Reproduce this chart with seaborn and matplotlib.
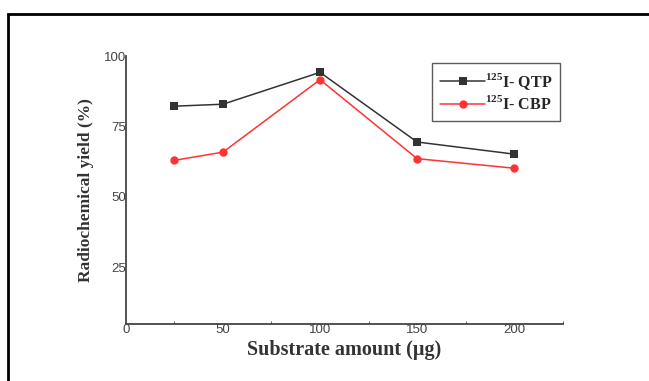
import numpy as np
import pandas as pd
import seaborn as sns
import matplotlib.pyplot as plt
from matplotlib.patches import Rectangle
from matplotlib.ticker import MultipleLocator

amount = [25, 50, 100, 150, 200]
qtp = [82.2, 82.9, 94.2, 69.5, 65.2]
cbp = [63.0, 65.9, 91.6, 63.6, 60.2]
labels = [r'$^{125}$I- QTP', r'$^{125}$I- CBP']

df = pd.DataFrame({'amount': amount * 2,
                   'yield': qtp + cbp,
                   'series': [labels[0]] * 5 + [labels[1]] * 5})

sns.set_style('white')
plt.rcParams['mathtext.fontset'] = 'custom'
plt.rcParams['mathtext.rm'] = 'Liberation Serif:bold'

fig = plt.figure(figsize=(6.49, 3.81), dpi=100)
ax = fig.add_axes([0.194, 0.150, 0.673, 0.703])

sns.lineplot(data=df, x='amount', y='yield', hue='series', style='series',
             palette=['#333333', '#ff3333'], markers=['s', 'o'], dashes=False,
             markersize=6, markeredgewidth=0, linewidth=1.1, ax=ax)

ax.set_xlim(0, 225)
ax.set_ylim(5, 100)
ax.set_xticks([0, 50, 100, 150, 200])
ax.set_yticks([25, 50, 75, 100])
ax.xaxis.set_minor_locator(MultipleLocator(25))
for s in ['top', 'right']:
    ax.spines[s].set_visible(False)
for s in ['left', 'bottom']:
    ax.spines[s].set_color('#444444')
    ax.spines[s].set_linewidth(1.3)
ax.tick_params(axis='both', which='major', length=0, pad=0,
               labelsize=9.5, labelcolor='#444444')
ax.tick_params(axis='x', which='minor', length=2, color='#444444',
               direction='in', bottom=True)
for t in ax.get_yticklabels() + ax.get_xticklabels():
    t.set_family('Liberation Sans')

ax.set_xlabel('Substrate amount (µg)', family='Liberation Serif',
              fontweight='bold', fontsize=14.5, color='#333333', labelpad=3)
ax.set_ylabel('Radiochemical yield (%)', family='Liberation Serif',
              fontweight='bold', fontsize=12.5, color='#333333', labelpad=7)

leg = ax.legend(loc='upper right', bbox_to_anchor=(0.995, 0.975), frameon=True,
                fancybox=False, edgecolor='#333333', fontsize=11.5,
                handlelength=2.8, handletextpad=0.0, borderpad=0.5,
                labelspacing=0.25, borderaxespad=0)
leg.get_frame().set_linewidth(1.0)
for t in leg.get_texts():
    t.set_family('Liberation Serif')
    t.set_fontweight('bold')

fig.patches.append(Rectangle((8 / 649, -0.1), 1.2, (381 - 14) / 381 + 0.1,
                             transform=fig.transFigure, fill=False,
                             edgecolor='black', linewidth=2))

fig.savefig('out.png', dpi=100)
